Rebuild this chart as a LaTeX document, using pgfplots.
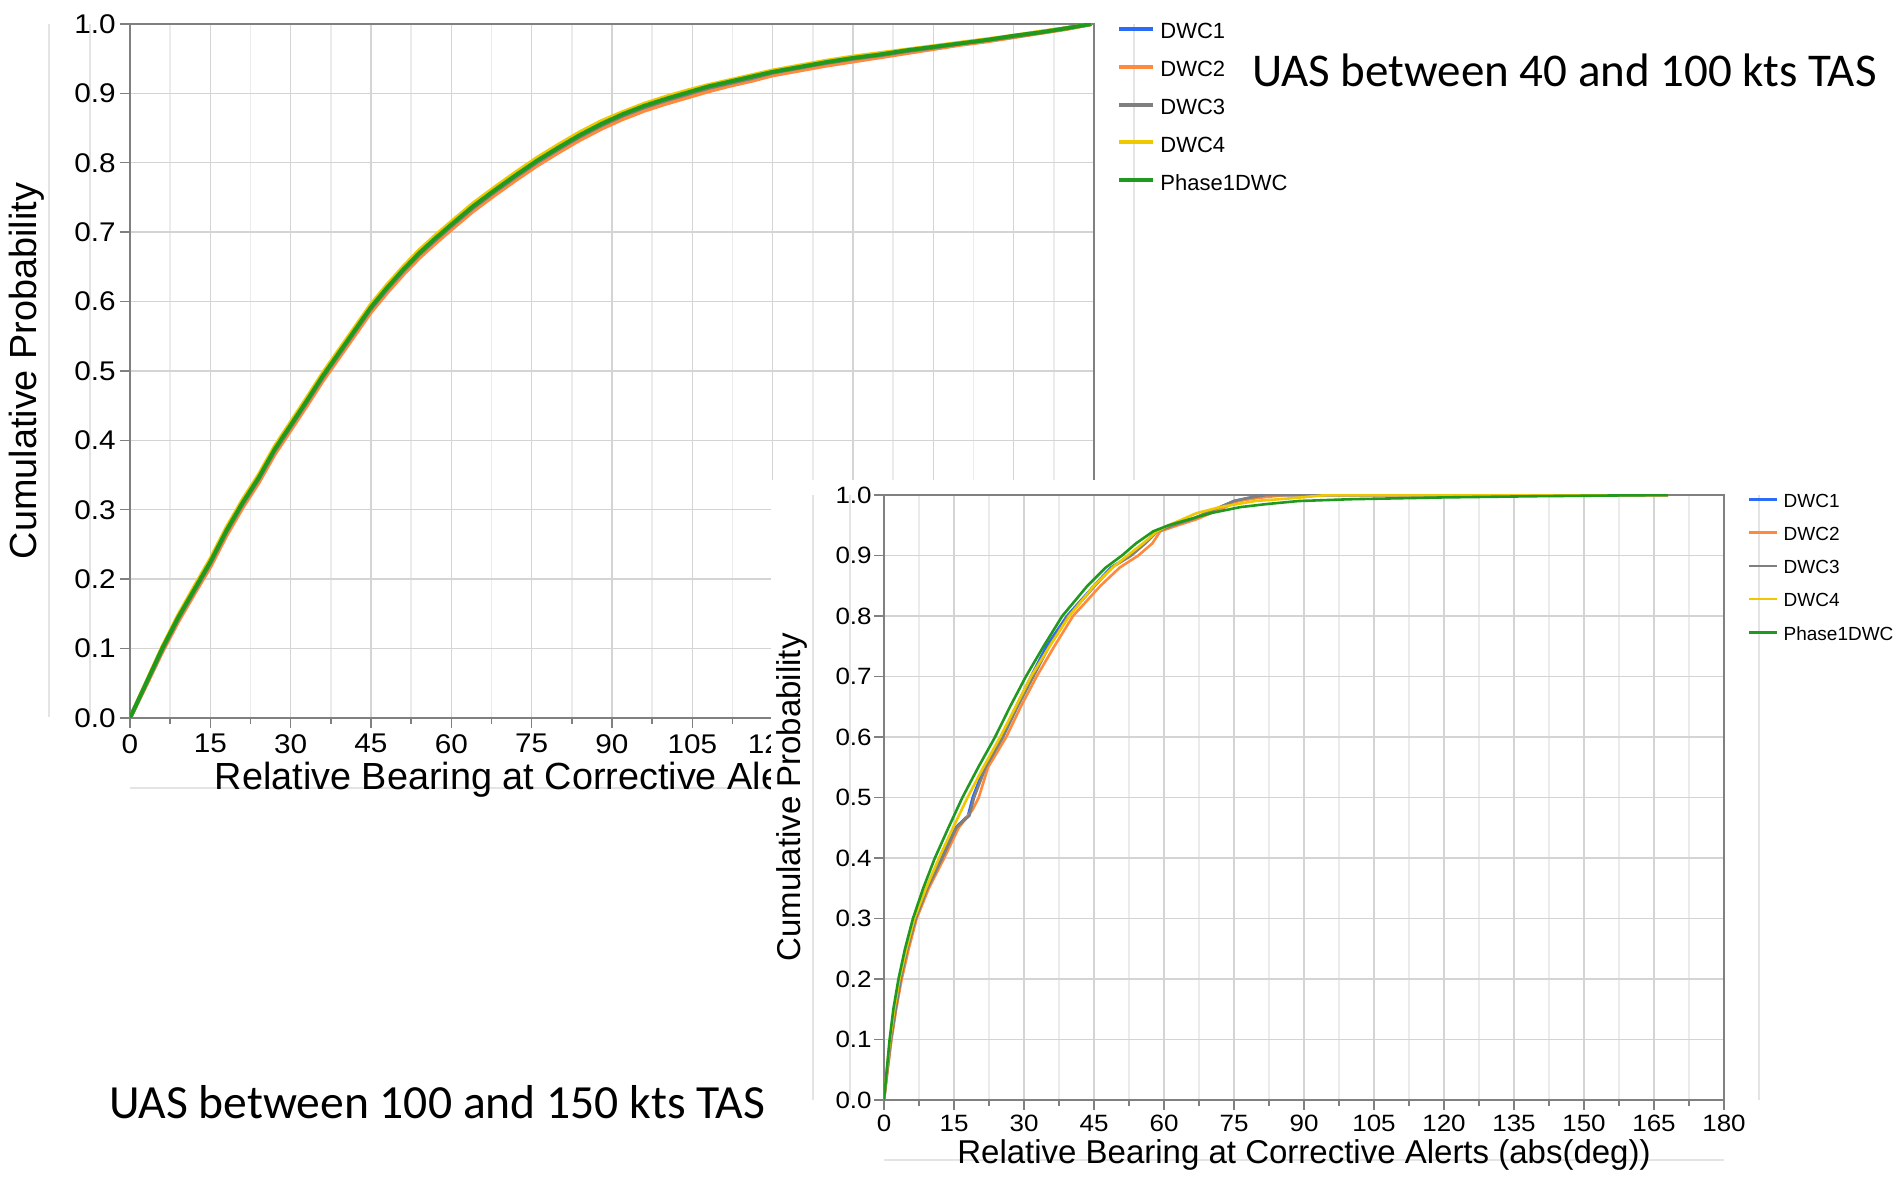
\documentclass[border=0pt]{standalone}
\usepackage{pgfplots}
\pgfplotsset{compat=1.18}
\usepackage{pgfplotstable}
\usepackage{fontspec}
\setmainfont{Liberation Sans}
\newfontfamily\tickfont{Liberation Sans}[FakeStretch=1.1]
\newfontfamily\titlefont{Carlito}

\definecolor{cBlue}{HTML}{2C6BF5}
\definecolor{cOrange}{HTML}{FF8A3D}
\definecolor{cGray}{HTML}{7F7F7F}
\definecolor{cYellow}{HTML}{F0C800}
\definecolor{cGreen}{HTML}{1F9A1F}
\definecolor{faint}{HTML}{E4E4E4}

\pgfplotstableread{
x     b     o     gr    y     g
0     0     0     0     0     0
3     .049  .047  .049  .051  .050
6     .098  .095  .098  .102  .100
9     .142  .139  .143  .148  .145
12    .182  .179  .183  .189  .185
15    .222  .218  .223  .229  .225
18    .267  .263  .268  .274  .270
21    .307  .303  .308  .314  .310
24    .343  .339  .344  .350  .346
27    .384  .380  .385  .391  .387
30    .419  .415  .420  .426  .422
33    .454  .450  .455  .461  .457
36    .490  .486  .491  .497  .493
39    .523  .519  .524  .530  .526
42    .556  .552  .557  .563  .559
45    .589  .585  .590  .596  .592
48    .617  .613  .618  .624  .620
51    .643  .639  .644  .650  .646
54    .667  .663  .668  .674  .670
57    .688  .684  .689  .695  .691
60    .708  .704  .709  .715  .711
64    .734  .730  .735  .741  .737
68    .757  .753  .758  .764  .760
72    .779  .775  .780  .786  .782
76    .800  .796  .801  .807  .803
80    .819  .815  .820  .826  .822
84    .837  .833  .838  .844  .840
88    .853  .849  .854  .860  .856
92    .867  .863  .868  .873  .870
96    .879  .875  .880  .885  .882
100   .889  .885  .890  .895  .892
104   .898  .894  .899  .904  .901
108   .907  .903  .908  .912  .910
112   .914  .911  .915  .919  .917
116   .921  .918  .922  .926  .924
120   .929  .926  .930  .933  .931
125   .936  .933  .937  .940  .938
130   .943  .940  .944  .947  .945
135   .949  .946  .950  .953  .951
140   .954  .952  .955  .958  .956
145   .960  .958  .961  .963  .962
150   .966  .964  .966  .968  .967
155   .971  .970  .972  .973  .972
160   .976  .975  .977  .978  .977
165   .982  .981  .982  .983  .983
170   .988  .987  .988  .989  .988
175   .994  .993  .994  .994  .994
179.5 1     1     1     1     1
}\cdfA

\newcommand{\tickA}{\tickfont\fontsize{13.5pt}{15pt}\selectfont}
\newcommand{\tickB}{\tickfont\fontsize{11.8pt}{13pt}\selectfont}
\newcommand{\labA}{\fontsize{18.9pt}{22pt}\selectfont}
\newcommand{\labB}{\fontsize{16.5pt}{19pt}\selectfont}
\newcommand{\legA}{\fontsize{11pt}{13pt}\selectfont}
\newcommand{\legB}{\fontsize{9.5pt}{11pt}\selectfont}

\pgfplotsset{
  jmp/.style={
    scale only axis,
    xmin=0, xmax=180, ymin=0, ymax=1,
    xtick={0,15,30,45,60,75,90,105,120,135,150,165,180},
    minor xtick={7.5,22.5,37.5,52.5,67.5,82.5,97.5,112.5,127.5,142.5,157.5,172.5},
    ytick={0,0.1,0.2,0.3,0.4,0.5,0.6,0.7,0.8,0.9,1},
    yticklabel style={/pgf/number format/fixed, /pgf/number format/fixed zerofill, /pgf/number format/precision=1},
    /pgf/number format/assume math mode=true,
    grid=both,
    major grid style={draw=black!17, line width=0.7pt},
    minor grid style={draw=black!8, line width=0.7pt},
    axis line style={draw=black!50, line width=1pt},
    tick style={draw=black!50, line width=0.7pt},
    tick align=outside, tick pos=left,
    major tick length=5pt, minor tick length=3pt,
    legend cell align=left,
    xlabel={Relative Bearing at Corrective Alerts (abs(deg))},
    ylabel={Cumulative Probability},
  }
}

\begin{document}
\begin{tikzpicture}
\path[use as bounding box] (0pt,0pt) rectangle (950.5pt,591pt);

% faint frame lines of chart 1
\draw[faint, line width=0.8pt] (24.5pt,579pt) -- (24.5pt,232.5pt);
\draw[faint, line width=0.8pt] (45pt,579pt) -- (45pt,232.5pt);
\draw[faint, line width=0.8pt] (567pt,579pt) -- (567pt,232.5pt);
\draw[faint, line width=0.8pt] (65pt,197pt) -- (547pt,197pt);

\begin{axis}[jmp,
  at={(65pt,232pt)}, anchor=south west,
  width=482pt, height=347pt,
  xticklabels={0,15,30,45,60,75,90,105,120,,,,},
  ticklabel style={font=\tickA},
  xticklabel style={anchor=north, inner sep=0pt, yshift=-3pt},
  yticklabel style={anchor=east, inner sep=0pt, xshift=-2pt},
  label style={font=\labA},
  xlabel style={at={(axis description cs:0.5,-0.1037)}, anchor=base},
  ylabel style={at={(axis description cs:-0.1068,0.5)}, anchor=center},
  legend style={draw=none, fill=none, at={(1.0243,1.0018)}, anchor=north west,
    inner sep=0pt, outer sep=0pt, row sep=10.95pt, font=\legA,
    nodes={inner sep=0pt, text height=8pt, text depth=0pt}},
  legend image code/.code={\draw[#1] (0pt,1pt) -- (17pt,1pt); \path (19.5pt,0pt);},
]
\addplot[cBlue, line width=2pt] table[x=x, y=b] {\cdfA};
\addlegendentry{DWC1}
\addplot[cOrange, line width=2pt] table[x=x, y=o] {\cdfA};
\addlegendentry{DWC2}
\addplot[cGray, line width=2pt] table[x=x, y=gr] {\cdfA};
\addlegendentry{DWC3}
\addplot[cYellow, line width=2pt] table[x=x, y=y] {\cdfA};
\addlegendentry{DWC4}
\addplot[cGreen, line width=2pt] table[x=x, y=g] {\cdfA};
\addlegendentry{Phase1DWC}
\end{axis}

% white background of chart 2
\fill[white] (385.5pt,0pt) rectangle (950.5pt,351pt);

% faint frame lines of chart 2
\draw[faint, line width=0.7pt] (406.5pt,343.5pt) -- (406.5pt,41pt);
\draw[faint, line width=0.7pt] (425pt,343.5pt) -- (425pt,41pt);
\draw[faint, line width=0.7pt] (879.5pt,343.5pt) -- (879.5pt,41pt);
\draw[faint, line width=0.7pt] (442pt,11pt) -- (862pt,11pt);

\begin{axis}[jmp,
  at={(442pt,41pt)}, anchor=south west,
  width=420pt, height=302.5pt,
  ticklabel style={font=\tickB},
  xticklabel style={anchor=north, inner sep=0pt, yshift=-2.3pt},
  yticklabel style={anchor=east, inner sep=0pt, xshift=-1pt},
  label style={font=\labB},
  xlabel style={at={(axis description cs:0.5,-0.1051)}, anchor=base},
  ylabel style={at={(axis description cs:-0.1095,0.5)}, anchor=center},
  legend style={draw=none, fill=none, at={(1.0286,1.002)}, anchor=north west,
    inner sep=0pt, outer sep=0pt, row sep=9.8pt, font=\legB,
    nodes={inner sep=0pt, text height=6.8pt, text depth=0pt}},
  legend image code/.code={\draw[#1] (0pt,0.5pt) -- (14pt,0.5pt); \path (16.5pt,0pt);},
]
\addplot[cBlue, line width=1.3pt] coordinates {
(0,0)(0.7,0.05)(1.5,0.10)(2.5,0.15)(3.6,0.20)(5.0,0.25)(6.8,0.30)(9.2,0.35)(12.3,0.40)
(15.3,0.45)(18.0,0.47)(19.0,0.50)(21.5,0.55)(25.2,0.60)(28.3,0.65)(31.5,0.70)(34.8,0.75)
(39.2,0.80)(45.0,0.85)(48.6,0.88)(52.8,0.90)(55.8,0.92)(58.4,0.94)(62,0.95)(66,0.96)
(72,0.98)(75,0.99)(78,0.995)(82,1.0)(168,1.0)};
\addlegendentry{DWC1}
\addplot[cOrange, line width=1.3pt] coordinates {
(0,0)(0.8,0.05)(1.6,0.10)(2.6,0.15)(3.8,0.20)(5.3,0.25)(7.0,0.30)(9.6,0.35)(12.9,0.40)
(16.0,0.45)(19.0,0.48)(20.3,0.50)(22.3,0.55)(26.2,0.60)(29.3,0.65)(32.7,0.70)(36.5,0.75)
(40.5,0.80)(46.4,0.85)(50.5,0.88)(54.5,0.90)(57.5,0.92)(59.2,0.94)(63,0.95)(67,0.96)
(73.2,0.98)(76,0.99)(80,0.995)(86,1.0)(168,1.0)};
\addlegendentry{DWC2}
\addplot[cGray, line width=1.3pt] coordinates {
(0,0)(0.7,0.05)(1.5,0.10)(2.5,0.15)(3.6,0.20)(5.0,0.25)(6.8,0.30)(9.3,0.35)(12.5,0.40)
(15.5,0.45)(18.3,0.47)(19.3,0.50)(21.8,0.55)(25.5,0.60)(28.6,0.65)(32.0,0.70)(35.4,0.75)
(39.5,0.80)(45.2,0.85)(48.8,0.88)(53.0,0.90)(56.0,0.92)(58.6,0.94)(62,0.95)(66,0.96)
(72,0.98)(75,0.99)(78,0.995)(82,1.0)(168,1.0)};
\addlegendentry{DWC3}
\addplot[cYellow, line width=1.3pt] coordinates {
(0,0)(0.6,0.05)(1.3,0.10)(2.2,0.15)(3.3,0.20)(4.8,0.25)(6.5,0.30)(9.0,0.35)(11.8,0.40)
(14.8,0.45)(17.9,0.50)(21.3,0.55)(24.9,0.60)(28.2,0.65)(31.5,0.70)(35.5,0.75)
(39.7,0.80)(45,0.85)(49,0.88)(52.2,0.90)(55.5,0.92)(58.5,0.94)(61,0.95)(64,0.96)
(67,0.97)(72,0.98)(79.5,0.99)(88,0.995)(95,1.0)(168,1.0)};
\addlegendentry{DWC4}
\addplot[cGreen, line width=1.3pt] coordinates {
(0,0)(0.6,0.05)(1.2,0.10)(2.0,0.15)(3.1,0.20)(4.5,0.25)(6.2,0.30)(8.4,0.35)(10.9,0.40)
(13.8,0.45)(16.8,0.50)(20.2,0.55)(23.8,0.60)(27.0,0.65)(30.4,0.70)(34.2,0.75)
(38.2,0.80)(43.6,0.85)(47.5,0.88)(51,0.90)(54,0.92)(57.7,0.94)(61,0.95)(65.5,0.96)
(70,0.97)(76.4,0.98)(82,0.985)(88.8,0.99)(100,0.993)(120,0.996)(140,0.998)(168,1.0)};
\addlegendentry{Phase1DWC}
\end{axis}

\node[anchor=base west, inner sep=0pt, font=\titlefont\fontsize{23.5pt}{28pt}\selectfont]
  at (626pt,547.5pt) {UAS between 40 and 100 kts TAS};
\node[anchor=base west, inner sep=0pt, font=\titlefont\fontsize{23.8pt}{28pt}\selectfont]
  at (54.3pt,31.5pt) {UAS between 100 and 150 kts TAS};
\end{tikzpicture}
\end{document}
